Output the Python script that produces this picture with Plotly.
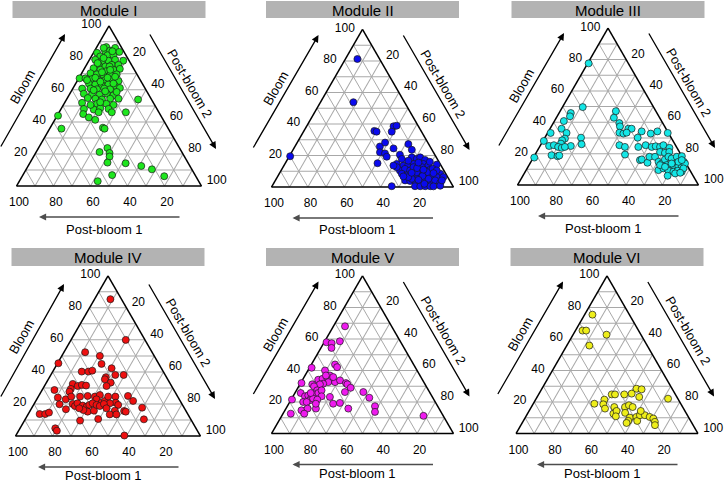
import plotly.graph_objects as go

W, H = 725, 482
FONT = "Liberation Sans, Arial, sans-serif"

MODULES = ["Module I", "Module II", "Module III", "Module IV", "Module V", "Module VI"]
COLORS = ["#1ee61e", "#0a0aee", "#14e6e6", "#ee1010", "#ee1aee", "#eeee1a"]

TICK_VALS = [10, 20, 30, 40, 50, 60, 70, 80, 90, 100]
TICK_TEXT = ["", "20", "", "40", "", "60", "", "80", "", "100"]

# Bloom (a) and Post-bloom 2 (c) per sample; Post-bloom 1 = 100 - a - c (ternary sum)
M1_BLOOM = [88.1, 86.7, 86.2, 83.1, 84.1, 84.5, 83.7, 80.9, 81.6, 81.6, 78.2, 78.8, 77.8, 78.2, 78.8,
            75.6, 74.6, 75.6, 75.6, 73.5, 72.5, 71.8, 72.5, 73.1, 70.4, 69.7, 68.9, 69.3, 69.7, 67.2,
            67.2, 66.7, 66.1, 66.1, 66.1, 65.5, 64.0, 63.4, 62.9, 63.4, 62.5, 60.8, 60.8, 60.4, 60.8,
            60.4, 61.2, 57.6, 57.0, 57.0, 57.6, 56.6, 54.9, 54.5, 54.0, 54.5, 54.5, 54.0, 51.9, 51.3,
            51.3, 50.6, 48.1, 47.7, 48.5, 48.1, 46.0, 46.0, 44.9, 42.8, 41.3, 43.9, 35.8, 36.4, 35.8,
            23.7, 21.2, 20.6, 18.4, 14.6, 14.2, 12.5, 10.4, 6.1, 6.8, 3.0, 86.2, 84.1, 79.9, 76.7,
            74.6, 71.0, 67.6, 67.6, 64.0, 65.1, 59.1, 59.8, 66.1, 58.7, 52.3, 50.6, 46.0, 72.5, 68.2]
M1_PB2 = [12.4, 5.2, 10.2, 2.0, 5.9, 8.3, 13.7, 4.8, 8.4, 11.6, 18.6, 3.2, 7.3, 10.6, 13.9,
          6.6, 10.7, 13.7, 17.3, 4.9, 9.1, 12.9, 16.2, 19.3, 4.8, 8.6, 12.7, 16.0, 19.3, 0.5,
          3.7, 7.4, 11.3, 14.9, 18.4, 22.4, 7.1, 10.9, 14.7, 18.0, 22.0, 5.1, 9.6, 13.3, 17.0,
          20.4, 25.3, 7.6, 12.3, 16.4, 20.0, 24.1, 11.1, 15.4, 19.2, 23.4, 27.9, 38.7, 9.5, 17.9,
          22.9, 27.1, 12.4, 17.9, 21.0, 25.7, 28.5, 36.1, 13.6, 17.7, 21.9, 0.5, 6.4, 28.5, 29.7,
          37.3, 34.3, 40.0, 41.1, 41.9, 51.9, 61.2, 68.0, 76.8, 48.3, 42.4, 4.0, 9.8, 7.1, 5.5,
          13.0, 10.7, 15.4, 8.8, 20.4, 12.8, 18.4, 11.8, 5.1, 24.8, 19.1, 14.7, 21.4, 14.4, 19.2]

M2_BLOOM = [81.2, 53.8, 19.5, 35.6, 35.1, 38.5, 38.9, 35.1, 25.7, 28.2, 24.5, 27.2, 23.6, 22.0, 21.3,
            19.2, 15.1, 20.5, 0.5, 18.8, 17.8, 18.8, 17.2, 14.6, 13.6, 14.2, 14.6, 13.6, 14.6, 13.6,
            14.2, 10.5, 11.5, 10.5, 10.9, 10.0, 10.5, 10.9, 8.4, 12.6, 8.4, 7.3, 7.9, 6.7, 7.3,
            6.7, 7.3, 6.3, 4.2, 3.8, 4.2, 3.1, 3.8, 3.1, 4.2, 2.5, 0.5, 0.5, 0.5, 0.5,
            0.4, 0.8, 5.2, 5.2, 9.4, 11.5, 12.6, 16.7, 17.8, 13.6, 10.5, 6.3, 4.2, 9.4, 12.6,
            6.3, 5.2, 8.8, 6.7, 12.0, 9.0, 7.0, 4.5, 11.0, 2.0, 15.5, 16.0]
M2_PB2 = [6.6, 18.1, 0.5, 38.7, 40.2, 47.8, 49.3, 48.5, 46.7, 48.3, 54.8, 61.6, 65.3, 48.6, 51.7,
          53.7, 50.7, 60.3, 65.8, 67.7, 70.9, 72.3, 75.8, 61.5, 65.7, 68.1, 70.7, 73.9, 76.2, 79.4,
          83.7, 65.3, 67.6, 70.9, 73.4, 76.7, 79.1, 81.7, 88.5, 62.5, 67.4, 70.6, 73.1, 76.4, 78.9,
          81.9, 84.4, 87.6, 71.3, 74.3, 76.8, 80.1, 82.5, 85.6, 87.8, 91.4, 78.6, 81.5, 84.2, 87.0,
          88.8, 92.3, 74.5, 80.5, 81.0, 82.8, 71.7, 66.8, 62.7, 60.2, 85.5, 91.3, 91.5, 75.1, 76.3,
          72.0, 83.6, 84.6, 69.1, 74.0, 72.5, 79.5, 78.5, 78.0, 83.0, 73.0, 79.0]

M3_BLOOM = [77.6, 49.7, 45.9, 43.8, 40.8, 35.9, 33.2, 33.2, 29.6, 28.5, 26.4, 28.1, 24.9, 25.4, 24.3,
            23.7, 24.9, 30.2, 26.0, 24.3, 19.0, 18.4, 18.8, 17.5,
            47.1, 42.9, 39.5, 37.4, 35.9, 35.9, 33.4, 32.8, 33.4, 34.2, 32.8, 34.2, 30.2, 33.2, 25.4,
            24.3, 19.4, 24.3, 25.4, 24.3, 24.7, 24.3, 25.4, 23.7, 15.9, 16.3, 14.2, 18.0, 18.0, 21.1,
            20.5, 21.1,
            14.8, 13.7, 16.3, 18.0, 16.9, 18.0, 18.4, 14.8, 12.7, 11.6, 12.7, 12.0, 11.6, 13.7, 9.5,
            10.6, 9.1, 8.5, 9.1, 8.5, 10.6, 12.7, 11.6, 5.9, 7.4, 7.8, 14.8, 13.7, 15.9]
M3_PB2 = [0.5, 11.2, 6.5, 7.1, 5.2, 6.4, 1.7, 10.5, 11.4, 10.4, 10.8, 0.5, 5.0, 7.4, 10.3,
          12.6, 17.0, 20.0, 22.4, 14.0, 9.3, 12.9, 13.7, 0.5,
          30.8, 31.8, 36.5, 37.9, 43.3, 45.1, 39.6, 42.1, 43.6, 51.5, 57.2, 60.2, 51.3, 66.4, 43.6,
          47.2, 49.7, 54.6, 58.1, 62.0, 64.0, 66.6, 67.9, 72.1, 59.7, 60.5, 64.7, 63.9, 67.0, 68.2,
          71.2, 73.3,
          70.5, 72.8, 73.3, 74.4, 76.7, 79.0, 81.6, 84.5, 76.1, 78.5, 79.8, 82.9, 85.0, 85.7, 73.1,
          75.3, 78.8, 81.9, 84.0, 86.5, 86.4, 72.4, 75.7, 80.0, 83.4, 86.0, 81.5, 78.3, 82.8]

M4_BLOOM = [85.4, 60.0, 52.3, 50.0, 45.4, 45.0, 40.2, 40.2, 40.8, 42.3, 36.7, 35.4, 38.1, 38.1, 33.3,
            31.2, 32.5, 29.4, 27.7, 31.2, 31.9, 31.5, 28.7, 24.0, 19.8, 22.9, 16.7, 24.6, 13.7, 13.7,
            14.6, 4.8, 3.3, 0.3, 9.6, 10.6, 10.4, 17.7, 21.9, 25.0, 24.6, 20.8, 19.4, 15.6, 15.2,
            15.8, 13.5, 13.5, 24.6, 25.6, 22.9, 20.8, 21.9, 24.6, 20.4, 20.0, 18.7, 20.4, 19.0, 18.3,
            19.4, 20.4, 15.2, 15.8, 16.2, 19.4, 18.7, 20.0, 17.3, 17.3, 25.0, 24.6]
M4_PB2 = [8.6, 29.6, 11.5, 20.6, 0.5, 24.0, 15.7, 19.3, 21.1, 30.8, 30.5, 30.6, 34.9, 39.4, 34.8,
          33.6, 14.7, 15.2, 15.3, 18.0, 19.9, 22.4, 6.7, 10.9, 13.9, 15.7, 18.9, 22.6, 6.2, 9.2,
          10.8, 19.1, 20.7, 58.7, 30.1, 39.4, 64.2, 59.6, 52.6, 48.3, 41.7, 43.8, 45.8, 50.9, 52.0,
          45.8, 44.2, 47.8, 30.6, 32.8, 32.3, 36.1, 37.4, 37.8, 40.8, 20.9, 22.8, 23.3, 26.8, 29.3,
          30.2, 31.5, 31.4, 34.5, 28.6, 34.1, 36.2, 37.8, 25.8, 40.5, 26.5, 17.8]

M5_BLOOM = [68.0, 57.9, 57.3, 58.5, 54.3, 41.7, 40.0, 43.8, 42.1, 32.0, 34.1, 34.7, 35.4, 36.8, 34.1,
            32.6, 31.6, 31.2, 32.6, 33.7, 32.0, 31.2, 29.0, 31.2, 29.9, 27.4, 25.7, 23.6, 24.2, 23.2,
            24.8, 25.7, 27.4, 23.6, 21.1, 22.1, 21.5, 20.0, 20.0, 14.7, 15.8, 15.8, 12.6, 12.6, 21.5,
            23.2, 18.9, 19.4, 15.8, 26.3, 26.3, 22.7, 17.3, 13.7, 11.2, 25.7, 18.9, 36.8, 35.8]
M5_PB2 = [6.4, 1.3, 4.4, 8.3, 5.8, 1.2, 9.4, 13.0, 15.0, 0.5, 8.6, 10.7, 12.9, 13.7, 15.9,
          14.9, 12.6, 11.0, 18.6, 20.8, 24.9, 26.1, 29.0, 6.8, 8.4, 11.4, 3.2, 6.6, 8.1, 10.4,
          11.5, 12.9, 13.8, 15.7, 10.6, 11.8, 14.4, 7.4, 9.3, 9.1, 11.9, 16.5, 11.7, 4.3, 0.5,
          20.5, 24.4, 27.9, 34.3, 27.2, 37.3, 42.4, 48.2, 50.0, 77.9, 8.7, 14.9, 11.5, 16.0]

M6_BLOOM = [75.4, 65.3, 65.3, 62.7, 55.8, 28.4, 28.0, 22.1, 24.8, 24.8, 24.8, 25.3, 23.2, 18.9, 21.5,
            18.5, 15.8, 16.8, 12.6, 14.3, 16.8, 17.9, 16.8, 13.1, 10.1, 8.0, 6.7, 10.5, 8.0, 11.6,
            11.6, 10.5, 9.5, 7.4, 5.3, 14.3, 10.9]
M6_PB2 = [4.3, 3.9, 5.9, 18.4, 12.4, 52.0, 55.0, 72.5, 40.2, 42.0, 47.1, 50.9, 56.1, 33.6, 37.8,
          38.7, 41.0, 45.6, 47.2, 48.1, 51.5, 53.1, 55.7, 53.4, 57.5, 57.7, 57.4, 60.9, 62.6, 62.3,
          65.0, 68.2, 70.7, 72.6, 73.7, 61.4, 49.4]

BLOOM = [M1_BLOOM, M2_BLOOM, M3_BLOOM, M4_BLOOM, M5_BLOOM, M6_BLOOM]
PB2 = [M1_PB2, M2_PB2, M3_PB2, M4_PB2, M5_PB2, M6_PB2]

# layout geometry in pixels: (centre x, bottom y, side)
GEOM = [(109, 186, 185), (362.5, 187, 182), (608, 185, 181),
        (108, 436, 185), (362.5, 433.5, 182), (607, 433.5, 182)]
BAR_Y = [(1, 18), (1, 18), (1, 18), (248, 266), (248, 266), (248, 266)]
PB1_TEXT_DY = [43, 42, 43, 39, 40, 40]


def px(x):
    return x / W


def py(y):
    return 1 - y / H


def axis():
    return dict(min=0, title=dict(text=""), tickmode="array", tickvals=TICK_VALS,
                ticktext=TICK_TEXT, ticks="outside", ticklen=5, tickwidth=1,
                tickcolor="rgba(0,0,0,0)", showgrid=True, gridcolor="#a8a8a8",
                gridwidth=1, showline=True, linecolor="black", linewidth=1.5,
                tickfont=dict(family=FONT, size=12, color="black"), layer="below traces")


def label(text, x, y, size=13, angle=0):
    return dict(text=text, xref="paper", yref="paper", x=px(x), y=py(y),
                xanchor="center", yanchor="middle", showarrow=False, textangle=angle,
                font=dict(family=FONT, size=size, color="black"))


fig = go.Figure()
annotations = []
shapes = []
layout_upd = {}

for i in range(6):
    key = "ternary" if i == 0 else f"ternary{i + 1}"
    cx, by, s = GEOM[i]
    hgt = s * 3 ** 0.5 / 2
    ty = by - hgt
    layout_upd[key] = dict(
        domain=dict(x=[px(cx - s / 2), px(cx + s / 2)], y=[py(by), py(ty)]),
        sum=100, bgcolor="white",
        aaxis=axis(), baxis=axis(), caxis=axis())
    fig.add_trace(go.Scatterternary(
        a=BLOOM[i], c=PB2[i], sum=100, mode="markers", subplot=key, showlegend=False,
        cliponaxis=False,
        marker=dict(size=7, color=COLORS[i], line=dict(color="#1a1a1a", width=0.7))))

    # title bar
    y0, y1 = BAR_Y[i]
    shapes.append(dict(type="rect", xref="paper", yref="paper",
                       x0=px(cx - 96.5), x1=px(cx + 96.5), y0=py(y1), y1=py(y0),
                       fillcolor="#b3b3b3", line=dict(width=0), layer="below"))
    annotations.append(label(MODULES[i], cx, (y0 + y1) / 2 + 0.5, size=15))
    # axis titles
    annotations.append(label("Bloom", cx - 87, by - 99, angle=-60))
    annotations.append(label("Post-bloom 2", cx + 81, by - 103, angle=60))
    annotations.append(label("Post-bloom 1", cx - 5, by + PB1_TEXT_DY[i]))
    # arrows (head position, tail position relative to bottom centre)
    for (hx, hy, tx, tyy, col) in [(-44, -152, -110, -38, "black"),
                                   (107, -37, 40, -153, "black"),
                                   (-70, 31, 72, 31, "#4d4d4d")]:
        annotations.append(dict(text="", xref="paper", yref="paper",
                                x=px(cx + hx), y=py(by + hy),
                                ax=tx - hx, ay=tyy - hy, axref="pixel", ayref="pixel",
                                showarrow=True, arrowhead=2, arrowsize=1.1, arrowwidth=1.3,
                                arrowcolor=col, standoff=0, startstandoff=0))

fig.update_layout(**layout_upd)
fig.update_layout(width=W, height=H, margin=dict(l=0, r=0, t=0, b=0),
                  paper_bgcolor="white", plot_bgcolor="white",
                  annotations=annotations, shapes=shapes,
                  font=dict(family=FONT, size=12, color="black"))

fig.write_html("out.html", config={"displayModeBar": False},
               post_script="document.body.style.margin='0px';")
